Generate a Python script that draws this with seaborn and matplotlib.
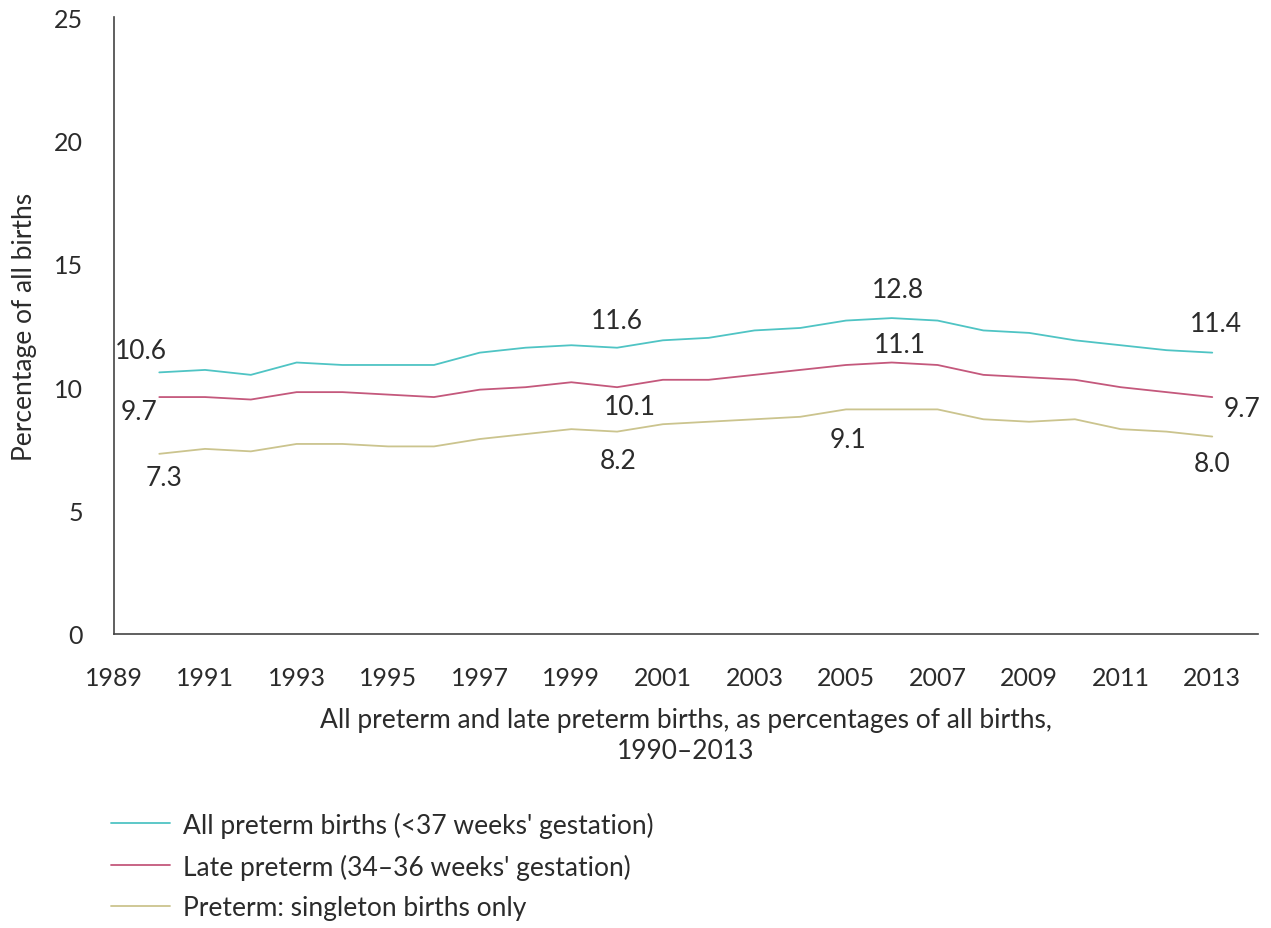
import numpy as np
import pandas as pd
import seaborn as sns
import matplotlib.pyplot as plt

# data
years = list(range(1990, 2014))
all_preterm = [10.6, 10.7, 10.5, 11.0, 10.9, 10.9, 10.9, 11.4, 11.6, 11.7, 11.6, 11.9,
               12.0, 12.3, 12.4, 12.7, 12.8, 12.7, 12.3, 12.2, 11.9, 11.7, 11.5, 11.4]
late_preterm = [9.6, 9.6, 9.5, 9.8, 9.8, 9.7, 9.6, 9.9, 10.0, 10.2, 10.0, 10.3,
                10.3, 10.5, 10.7, 10.9, 11.0, 10.9, 10.5, 10.4, 10.3, 10.0, 9.8, 9.6]
singleton = [7.3, 7.5, 7.4, 7.7, 7.7, 7.6, 7.6, 7.9, 8.1, 8.3, 8.2, 8.5,
             8.6, 8.7, 8.8, 9.1, 9.1, 9.1, 8.7, 8.6, 8.7, 8.3, 8.2, 8.0]
series_names = ["All preterm births (<37 weeks' gestation)",
                "Late preterm (34\u201336 weeks' gestation)",
                "Preterm: singleton births only"]

# value labels: (series index, year, text)
label_series = [0, 1, 2, 0, 1, 2, 2, 0, 1, 0, 1, 2]
label_years = [1990, 1990, 1990, 2000, 2000, 2000, 2005, 2006, 2006, 2013, 2013, 2013]
label_texts = ["10.6", "9.7", "7.3", "11.6", "10.1", "8.2", "9.1", "12.8", "11.1", "11.4", "9.7", "8.0"]
label_offsets = [(-18, 22), (-20, -14), (5, -24), (0, 27), (13, -19), (1, -29),
                 (2, -30), (6, 29), (8, 18), (4, 29), (30, -11), (0, -27)]

colors = ["#4fc4c4", "#c4587c", "#cbc48e"]
text_col = "#2b2b2b"

df = pd.DataFrame({
    "year": years * 3,
    "value": all_preterm + late_preterm + singleton,
    "series": [series_names[0]] * len(years) + [series_names[1]] * len(years) + [series_names[2]] * len(years),
})

sns.set_style("white")
plt.rcParams['font.family'] = ['Lato', 'DejaVu Sans']
plt.rcParams['text.color'] = text_col
plt.rcParams['axes.labelcolor'] = text_col
plt.rcParams['xtick.color'] = text_col
plt.rcParams['ytick.color'] = text_col

fig = plt.figure(figsize=(12.71, 9.29), dpi=100)
ax = fig.add_axes([0.0893, 0.3165, 0.9005, 0.6641])

sns.lineplot(data=df, x="year", y="value", hue="series", palette=colors,
             linewidth=1.3, ax=ax, legend=False)

series_vals = [all_preterm, late_preterm, singleton]
for s, yr, txt, off in zip(label_series, label_years, label_texts, label_offsets):
    v = series_vals[s][years.index(yr)]
    ax.annotate(txt, (yr, v), xytext=off, textcoords='offset pixels',
                ha='center', va='center', fontsize=19, color=text_col)

ax.set_xlim(1989, 2014)
ax.set_ylim(0, 25)
ax.set_xticks(range(1989, 2014, 2))
ax.set_yticks(range(0, 26, 5))
ax.tick_params(axis='both', direction='out', length=13, width=1, labelsize=18)
ax.tick_params(axis='x', pad=10)
ax.tick_params(axis='y', pad=9)
for side in ['top', 'right']:
    ax.spines[side].set_visible(False)
for side in ['left', 'bottom']:
    ax.spines[side].set_color('#444444')
    ax.spines[side].set_linewidth(1.2)

ax.set_xlabel("All preterm and late preterm births, as percentages of all births,\n1990\u20132013",
              fontsize=19, labelpad=13, linespacing=1.3)
ax.set_ylabel("Percentage of all births", fontsize=19, labelpad=12)

handles = [plt.Line2D([], [], color=c, lw=1.3) for c in colors]
fig.legend(handles, series_names, loc='upper left', bbox_to_anchor=(0.069, 0.151),
           frameon=False, fontsize=19, handlelength=2.2, handletextpad=0.5,
           labelspacing=0.6)

fig.savefig("out.png", dpi=100)
